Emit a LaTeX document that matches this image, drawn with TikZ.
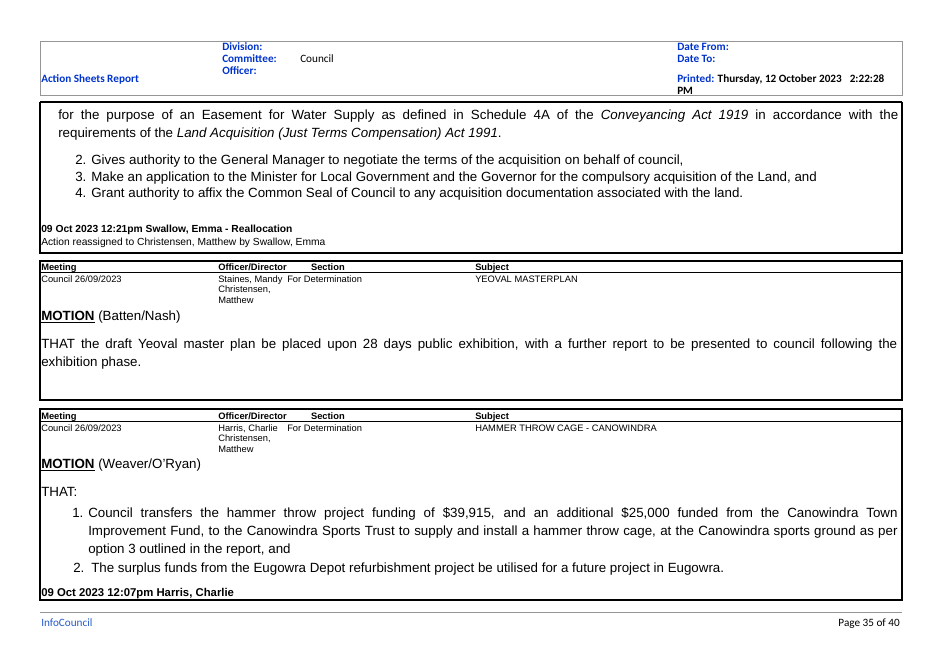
\documentclass[tikz,border=0pt]{standalone}
\usepackage{fontspec}
\setmainfont{Liberation Sans}
\newfontfamily\hdr{Carlito}
\definecolor{hblue}{RGB}{0,51,204}
\definecolor{fblue}{RGB}{40,90,200}
\definecolor{lgrey}{RGB}{150,150,150}
\begin{document}
\begin{tikzpicture}[x=0.75pt,y=-0.75pt,
  every node/.style={inner sep=0pt,anchor=base west},
  hb/.style={font=\hdr\bfseries\fontsize{8.4}{9}\selectfont,text=hblue},
  hk/.style={font=\hdr\fontsize{8.4}{9}\selectfont},
  body/.style={font=\fontsize{10}{11}\selectfont},
  sm/.style={font=\fontsize{7}{8.2}\selectfont},
  smb/.style={font=\bfseries\fontsize{7}{8.2}\selectfont},
  rec/.style={font=\fontsize{7.7}{9}\selectfont},
  mot/.style={font=\fontsize{10}{12}\selectfont},
  box/.style={draw=black,line width=0.9pt}]
\useasboundingbox (0,0) rectangle (940,664);
% header
\draw[lgrey,line width=0.6pt] (40,41) rectangle (902,95);
\node[hb] (div) at (222,50) {Division:};
\node[hb] (com) at (222,62) {Committee:};
\node[hk] (cou) at (300,62) {Council};
\node[hb] (off) at (222,74) {Officer:};
\node[hb] (asr) at (41,82) {Action Sheets Report};
\node[hb] (df) at (677,50) {Date From:};
\node[hb] (dt) at (677,62) {Date To:};
\node[hb] (pr) at (677,82) {Printed: \textcolor{black}{Thursday, 12 October 2023\hspace{6pt}2:22:28}};
\node[hb,text=black] (pm) at (677,94) {PM};
% section 1
\draw[box] (40,102) -- (902,102);
\draw[box] (40,102) -- (40,253) -- (902,253) -- (902,102);
\node[body] (p1) at (58,119) {\makebox[630pt][s]{for the purpose of an Easement for Water Supply as defined in Schedule 4A of the \textit{Conveyancing Act 1919} in accordance with the}};
\node[body] (p2) at (58,137) {requirements of the \textit{Land Acquisition (Just Terms Compensation) Act 1991}.};
\node[body] (l2) at (75,164) {2. Gives authority to the General Manager to negotiate the terms of the acquisition on behalf of council,};
\node[body] (l3) at (75,181) {3. Make an application to the Minister for Local Government and the Governor for the compulsory acquisition of the Land, and};
\node[body] (l4) at (75,197) {4. Grant authority to affix the Common Seal of Council to any acquisition documentation associated with the land.};
\node[rec,font=\bfseries\fontsize{7.7}{9}\selectfont] (r1) at (41,232) {09 Oct 2023 12:21pm Swallow, Emma - Reallocation};
\node[rec] (r2) at (41,245) {Action reassigned to Christensen, Matthew by Swallow, Emma};
% table 2
\draw[box] (40,261) rectangle (902,400);
\draw[line width=0.6pt] (40,272.5) -- (902,272.5);
\node[smb] (m2) at (41,270) {Meeting};
\node[smb] (o2) at (218,270) {Officer/Director};
\node[smb,anchor=base east] (s2) at (345,270) {Section};
\node[smb] (u2) at (475,270) {Subject};
\node[sm] (c2) at (41,282) {Council 26/09/2023};
\node[sm,align=left,anchor=north west,font=\fontsize{7}{8.2}\selectfont] (n2) at (218,275) {Staines, Mandy\\Christensen,\\Matthew};
\node[sm] (d2) at (287,282) {For Determination};
\node[sm] (y2) at (475,282) {YEOVAL MASTERPLAN};
\node[mot] (mo2) at (41,320) {\underline{\textbf{MOTION}} (Batten/Nash)};
\node[body] (t2a) at (41,348) {\makebox[642pt][s]{THAT the draft Yeoval master plan be placed upon 28 days public exhibition, with a further report to be presented to council following the}};
\node[body] (t2b) at (41,366) {exhibition phase.};
% table 3
\draw[box] (40,409) rectangle (902,600);
\draw[line width=0.6pt] (40,421.5) -- (902,421.5);
\node[smb] (m3) at (41,419) {Meeting};
\node[smb] (o3) at (218,419) {Officer/Director};
\node[smb,anchor=base east] (s3) at (345,419) {Section};
\node[smb] (u3) at (475,419) {Subject};
\node[sm] (c3) at (41,431) {Council 26/09/2023};
\node[sm,align=left,anchor=north west,font=\fontsize{7}{8.2}\selectfont] (n3) at (218,424) {Harris, Charlie\\Christensen,\\Matthew};
\node[sm] (d3) at (287,431) {For Determination};
\node[sm] (y3) at (475,431) {HAMMER THROW CAGE - CANOWINDRA};
\node[mot] (mo3) at (41,468) {\underline{\textbf{MOTION}} (Weaver/O'Ryan)};
\node[body] (th) at (41,496) {THAT:};
\node[body] (n1) at (72,517) {1.};
\node[body] (i1a) at (88,517) {\makebox[607pt][s]{Council transfers the hammer throw project funding of \$39,915, and an additional \$25,000 funded from the Canowindra Town}};
\node[body] (i1b) at (88,535) {\makebox[607pt][s]{Improvement Fund, to the Canowindra Sports Trust to supply and install a hammer throw cage, at the Canowindra sports ground as per}};
\node[body] (i1c) at (88,553) {option 3 outlined in the report, and};
\node[body] (n2b) at (73,572) {2.};
\node[body] (i2) at (91,572) {The surplus funds from the Eugowra Depot refurbishment project be utilised for a future project in Eugowra.};
\node[rec,font=\bfseries\fontsize{8.5}{9}\selectfont] (r3) at (41,596) {09 Oct 2023 12:07pm Harris, Charlie};
% footer
\draw[lgrey,line width=0.5pt] (40,612) -- (902,612);
\node[hk,text=fblue] (ic) at (41,626) {InfoCouncil};
\node[hk,anchor=base east] (pg) at (900,626) {Page 35 of 40};
\end{tikzpicture}
\end{document}
